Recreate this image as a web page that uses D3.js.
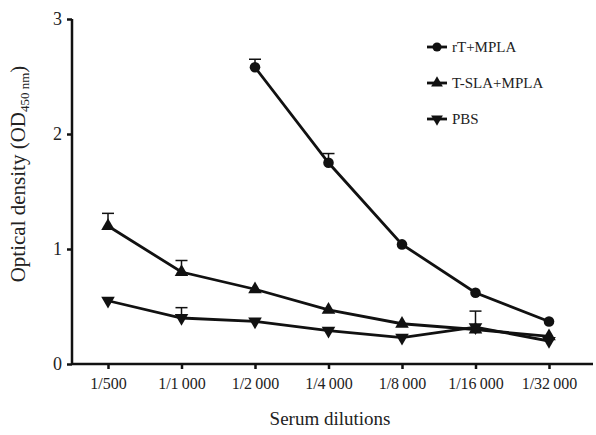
<!DOCTYPE html>
<html>
<head>
<meta charset="utf-8">
<script src="https://cdn.jsdelivr.net/npm/d3@7"></script>
<style>
  body { margin: 0; background: #fff; }
  text { font-family: "Liberation Serif", "DejaVu Serif", serif; fill: #222; }
</style>
</head>
<body>
<svg width="596" height="435"></svg>
<script>
// dilution categories
var dilutions = ["1/500", "1/1\u2009000", "1/2\u2009000", "1/4\u2009000", "1/8\u2009000", "1/16\u2009000", "1/32\u2009000"];

// series values (null = not measured)
var rtMpla   = [null, null, 2.58, 1.75, 1.04, 0.62, 0.37];
var rtErr    = [null, null, 0.07, 0.08, 0,    0,    0];
var tslaMpla = [1.20, 0.80, 0.65, 0.47, 0.35, 0.30, 0.24];
var tslaErr  = [0.11, 0.10, 0,    0,    0,    0,    0];
var pbs      = [0.55, 0.40, 0.37, 0.29, 0.23, 0.32, 0.20];
var pbsErr   = [0,    0.09, 0,    0,    0,    0.14, 0];

var yTicks = [0, 1, 2, 3];

var series = [
  { name: "rT+MPLA", values: rtMpla, err: rtErr, symbol: "circle" },
  { name: "T-SLA+MPLA", values: tslaMpla, err: tslaErr, symbol: "up" },
  { name: "PBS", values: pbs, err: pbsErr, symbol: "down" }
];

var svg = d3.select("svg");

var x = d3.scalePoint()
    .domain(dilutions)
    .range([108, 549]);

var y = d3.scaleLinear()
    .domain([0, 3])
    .range([364, 19]);

// axes
var xAxis = svg.append("g")
    .attr("transform", "translate(0,364)")
    .call(d3.axisBottom(x).tickSize(5).tickPadding(9));
xAxis.select(".domain").attr("d", "M72,0H593");
xAxis.selectAll("line").attr("stroke", "#111").attr("stroke-width", 2.5);
xAxis.select(".domain").attr("stroke", "#111").attr("stroke-width", 2.5);
xAxis.selectAll("text").attr("font-size", 16).attr("fill", "#222");

var yAxis = svg.append("g")
    .attr("transform", "translate(72,0)")
    .call(d3.axisLeft(y).tickValues(yTicks).tickFormat(d3.format("d")).tickSize(5).tickPadding(5));
yAxis.select(".domain").attr("d", "M0,364V19").attr("stroke", "#111").attr("stroke-width", 2.5);
yAxis.selectAll("line").attr("stroke", "#111").attr("stroke-width", 2.5);
yAxis.selectAll("text").attr("font-size", 18).attr("fill", "#222");

// axis titles
svg.append("text")
    .attr("x", 330)
    .attr("y", 425)
    .attr("text-anchor", "middle")
    .attr("font-size", 19)
    .text("Serum dilutions");

var yTitle = svg.append("text")
    .attr("transform", "translate(25,174) rotate(-90)")
    .attr("text-anchor", "middle")
    .attr("font-size", 21);
yTitle.append("tspan").text("Optical density (OD");
yTitle.append("tspan").attr("font-size", 13).attr("dy", 4).text("450 nm");
yTitle.append("tspan").attr("dy", -4).text(")");

function symbolPath(kind, size) {
  if (kind === "circle") return d3.symbol().type(d3.symbolCircle).size(size * 1.1)();
  var tri = d3.symbol().type(d3.symbolTriangle).size(size)();
  return tri;
}

series.forEach(function(s) {
  var pts = s.values.map(function(v, i) {
    return { cat: dilutions[i], v: v, e: s.err[i] };
  }).filter(function(d) { return d.v !== null; });

  var g = svg.append("g");

  // error bars (upper only)
  var eb = pts.filter(function(d) { return d.e > 0; });
  g.selectAll(".ev").data(eb).enter().append("line")
      .attr("x1", function(d) { return x(d.cat); })
      .attr("x2", function(d) { return x(d.cat); })
      .attr("y1", function(d) { return y(d.v); })
      .attr("y2", function(d) { return y(d.v + d.e); })
      .attr("stroke", "#111").attr("stroke-width", 1.5);
  g.selectAll(".ec").data(eb).enter().append("line")
      .attr("x1", function(d) { return x(d.cat) - 6; })
      .attr("x2", function(d) { return x(d.cat) + 6; })
      .attr("y1", function(d) { return y(d.v + d.e); })
      .attr("y2", function(d) { return y(d.v + d.e); })
      .attr("stroke", "#111").attr("stroke-width", 1.5);

  var line = d3.line()
      .x(function(d) { return x(d.cat); })
      .y(function(d) { return y(d.v); });

  g.append("path")
      .datum(pts)
      .attr("d", line)
      .attr("fill", "none")
      .attr("stroke", "#111")
      .attr("stroke-width", 2.8);

  g.selectAll(".pt").data(pts).enter().append("path")
      .attr("d", symbolPath(s.symbol, 80))
      .attr("transform", function(d) {
        var r = s.symbol === "down" ? " rotate(180)" : "";
        return "translate(" + x(d.cat) + "," + y(d.v) + ")" + r;
      })
      .attr("fill", "#111");
});

// legend
var legend = svg.append("g").attr("transform", "translate(427,47)");
series.forEach(function(s, i) {
  var row = legend.append("g").attr("transform", "translate(0," + (i * 36) + ")");
  row.append("line")
      .attr("x1", 0).attr("x2", 20)
      .attr("stroke", "#111").attr("stroke-width", 2.8);
  row.append("path")
      .attr("d", symbolPath(s.symbol, 60))
      .attr("transform", "translate(10,0)" + (s.symbol === "down" ? " rotate(180)" : ""))
      .attr("fill", "#111");
  row.append("text")
      .attr("x", 25)
      .attr("y", 5)
      .attr("font-size", 15)
      .text(s.name);
});
</script>
</body>
</html>
